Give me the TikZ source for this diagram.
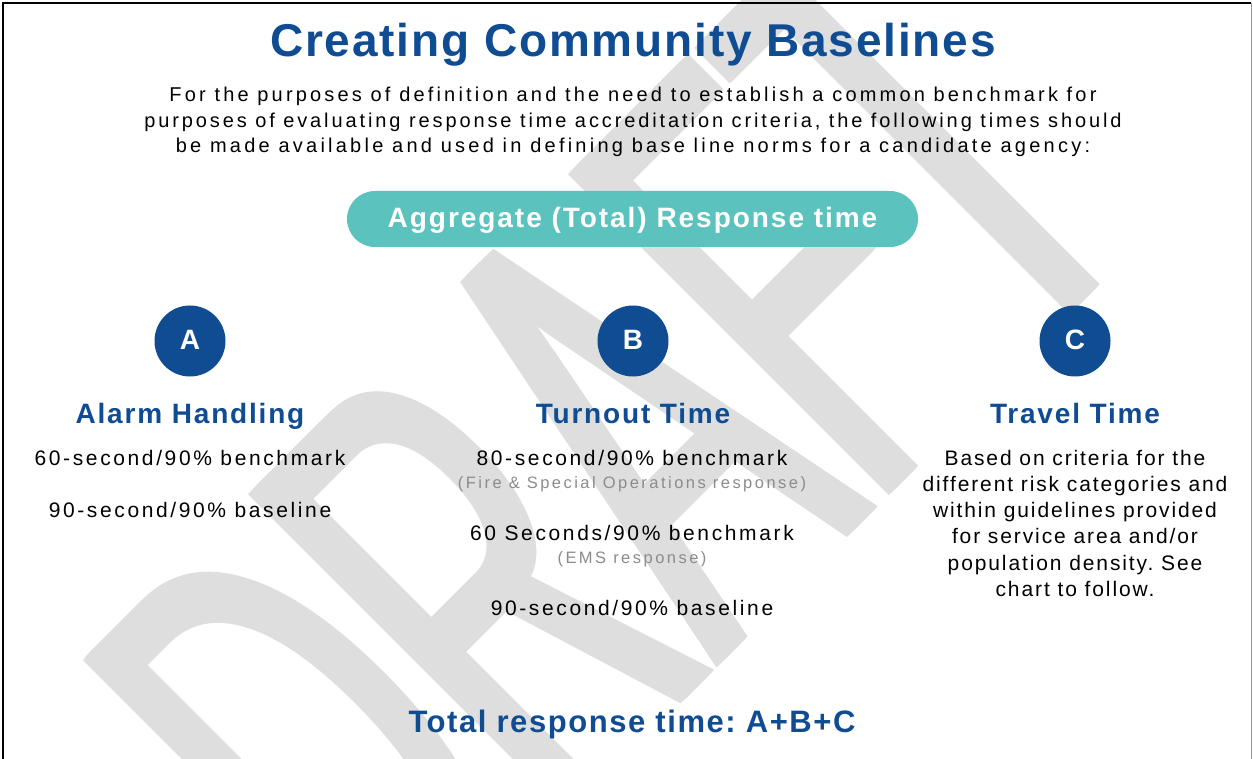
\documentclass[tikz,border=0pt]{standalone}
\usepackage{fontspec}
\setmainfont{Liberation Sans}
\definecolor{brandblue}{RGB}{15,76,146}
\definecolor{pillteal}{RGB}{92,194,189}
\definecolor{wmgray}{RGB}{222,222,222}
\definecolor{notegray}{RGB}{140,140,140}
\definecolor{edgegray}{RGB}{150,150,150}
\newcommand\track[1]{\addfontfeature{LetterSpace=#1}}

\begin{document}
\frenchspacing
\begin{tikzpicture}[x=1pt,y=1pt,
  txt/.style={inner sep=0pt, outer sep=0pt, anchor=base},
  titletext/.style={txt, text=brandblue, font=\fontsize{46}{46}\selectfont\bfseries\track{4}},
  introtext/.style={txt, text=black, font=\fontsize{20}{20}\selectfont\track{#1}},
  introtext/.default=14.5,
  pillbox/.style={fill=pillteal, rounded corners=28pt, minimum width=571pt, minimum height=56pt, inner sep=0pt},
  pilltext/.style={txt, text=white, font=\fontsize{28}{28}\selectfont\bfseries\track{7}},
  badge/.style={circle, fill=brandblue, minimum size=71pt, inner sep=0pt, text height=20pt, text depth=4pt,
    text=white, font=\fontsize{28}{28}\selectfont\bfseries},
  headtext/.style={txt, text=brandblue, font=\fontsize{28}{28}\selectfont\bfseries\track{6.5}},
  coltext/.style={txt, text=black, font=\fontsize{21}{21}\selectfont\track{12.5}},
  traveltext/.style={txt, text=black, font=\fontsize{21}{21}\selectfont\track{9}},
  notetext/.style={txt, text=notegray, font=\fontsize{16.5}{16.5}\selectfont\track{15}},
  totaltext/.style={txt, text=brandblue, font=\fontsize{31}{31}\selectfont\bfseries\track{5}},
  watermark/.style={inner sep=0pt, outer sep=0pt, anchor=base west, transform shape,
    text=wmgray, font=\fontsize{325}{325}\selectfont}
]
\useasboundingbox (0,0) rectangle (1253,-759);
\fill[white] (0,0) rectangle (1253,-759);

% tall, diagonal DRAFT watermark; a few side-by-side copies give it heavier stems
\begin{scope}
  \clip (0,0) rectangle (1253,-759);
  \begin{scope}[shift={(385,-1000)}, rotate=45, yscale=2.03]
    \foreach \dx in {0,3,6,9,12}
      \node[watermark] (draft\dx) at (\dx,0) {DRAFT};
  \end{scope}
\end{scope}

% page frame
\draw[black, line width=1.5pt] (3,-770) -- (3,-3) -- (1251,-3);
\draw[edgegray, line width=0.8pt] (1251,-3) -- (1251,-770);

% heading and introduction
\node[titletext] (title) at (633,-57) {Creating Community Baselines};
\node[introtext=15.9] (intro1) at (633,-102) {For the purposes of definition and the need to establish a common benchmark for};
\node[introtext=14.5] (intro2) at (633,-127.5) {purposes of evaluating response time accreditation criteria, the following times should};
\node[introtext=16.2] (intro3) at (633,-153) {be made available and used in defining base line norms for a candidate agency:};

% aggregate banner
\node[pillbox] (pill) at (632.5,-219) {};
\node[pilltext] (pilllabel) at (632.5,-228) {Aggregate (Total) Response time};

% the three components
\node[badge] (a) at (190,-341) {A};
\node[badge] (b) at (633,-341) {B};
\node[badge] (c) at (1075,-341) {C};

\node[headtext] (ahead) at (190,-423) {Alarm Handling};
\node[headtext] (bhead) at (633,-423) {Turnout Time};
\node[headtext] (chead) at (1075,-423) {Travel Time};

\node[coltext] (a1) at (190,-465) {60-second/90\% benchmark};
\node[coltext] (a2) at (190,-517) {90-second/90\% baseline};

\node[coltext] (b1) at (632,-465) {80-second/90\% benchmark};
\node[notetext] (b1note) at (632,-488) {(Fire \& Special Operations response)};
\node[coltext] (b2) at (632,-540) {60 Seconds/90\% benchmark};
\node[notetext] (b2note) at (632,-563) {(EMS response)};
\node[coltext] (b3) at (632,-615) {90-second/90\% baseline};

\node[traveltext] (c1) at (1075,-465) {Based on criteria for the};
\node[traveltext] (c2) at (1075,-491) {different risk categories and};
\node[traveltext] (c3) at (1075,-517) {within guidelines provided};
\node[traveltext] (c4) at (1075,-543.3) {for service area and/or};
\node[traveltext] (c5) at (1075,-570) {population density. See};
\node[traveltext] (c6) at (1075,-596) {chart to follow.};

% sum line
\node[totaltext] (total) at (632,-732) {Total response time: A+B+C};
\end{tikzpicture}
\end{document}
